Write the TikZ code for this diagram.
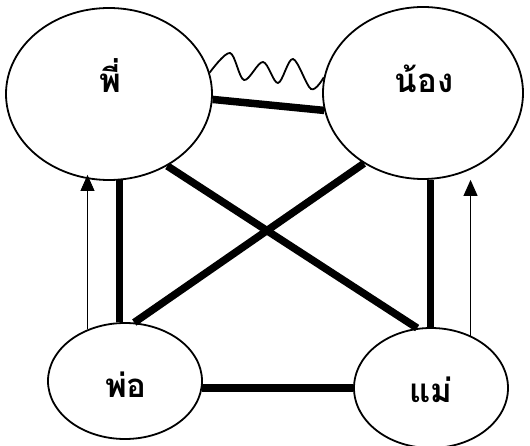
\documentclass[tikz,border=0pt]{standalone}
\usepackage{fontspec}
\newfontfamily\thaifont[Script=Thai]{Loma}
\usetikzlibrary{shapes.geometric,arrows.meta}
\tikzset{
  person/.style={draw, ellipse, line width=1.8pt, inner sep=0pt},
  membername/.style={anchor=base, font=\thaifont\bfseries\fontsize{33}{35}\selectfont},
  bond/.style={line width=7.5pt},
  conflict/.style={line width=1.8pt},
  influence/.style={line width=0.9pt, -{Triangle[width=14pt,length=16pt]}}
}
\begin{document}
\begin{tikzpicture}[x=1pt,y=-1pt]
\useasboundingbox (0,0) rectangle (530,446);
% family members
\node[person, minimum width=206pt, minimum height=172pt] (phi)  at (109,94) {};
\node[person, minimum width=200pt, minimum height=172pt] (nong) at (423,93) {};
\node[person, minimum width=154pt, minimum height=116pt] (pho)  at (125,381) {};
\node[person, minimum width=154pt, minimum height=120pt] (mae)  at (431,388) {};
\node[membername] (tphi)  at (110,93)  {พี่};
\node[membername] (tnong) at (424,93)  {น้อง};
\node[membername] (tpho)  at (126,397) {พ่อ};
\node[membername] (tmae)  at (431,402) {แม่};
% ties between them
\draw[bond] (phi.-3) -- (nong.190);
\draw[bond] (phi.-83) -- (phi.-83 |- pho.north);
\draw[bond] (nong.-85) -- (nong.-85 |- mae.north);
\draw[bond] (phi.-51) -- (mae.103);
\draw[bond] (nong.-130) -- (pho.81);
\draw[bond] (pho.-5) -- (pho.-5 -| mae.west);
% conflict between the siblings
\draw[conflict] plot[smooth, tension=0.55] coordinates
  {(phi.12) (230,53) (244,80) (263,62) (278,83) (293,59) (311,89) (nong.171)};
% influence of the parents
\draw[influence, shorten >=-6pt] (pho.126) -- (pho.126 |- phi.south);
\draw[influence] (mae.53) -- (mae.53 |- nong.south);
\end{tikzpicture}
\end{document}
